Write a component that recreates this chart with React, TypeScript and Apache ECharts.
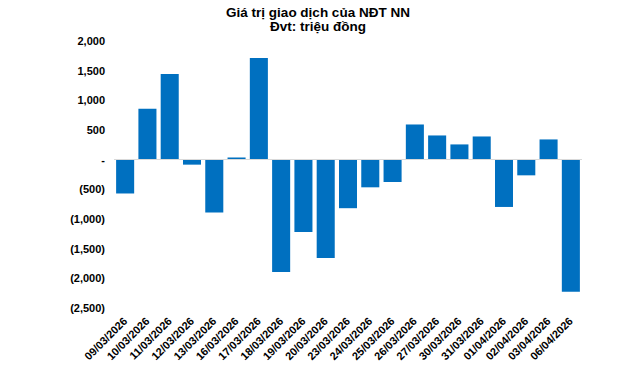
import React, { useEffect, useRef } from "react";
import * as echarts from "echarts";

const categories = [
  "09/03/2026", "10/03/2026", "11/03/2026", "12/03/2026", "13/03/2026",
  "16/03/2026", "17/03/2026", "18/03/2026", "19/03/2026", "20/03/2026",
  "23/03/2026", "24/03/2026", "25/03/2026", "26/03/2026", "27/03/2026",
  "30/03/2026", "31/03/2026", "01/04/2026", "02/04/2026", "03/04/2026",
  "06/04/2026",
];
const values = [
  -570, 857, 1445, -84, -890,
  35, 1714, -1894, -1221, -1658,
  -818, -466, -376, 593, 408,
  257, 391, -797, -264, 341,
  -2225,
];
const titleLines = ["Giá trị giao dịch của NĐT NN", "Đvt: triệu đồng"];

const fmt = (v: number) => {
  if (v === 0) return "-";
  const s = Math.abs(v).toLocaleString("en-US");
  return v < 0 ? `(${s})` : s;
};

export default function App() {
  const ref = useRef<HTMLDivElement>(null);
  useEffect(() => {
    if (!ref.current) return;
    const chart = echarts.init(ref.current, undefined, { renderer: "svg" });
    const font = "Liberation Sans, Arial, sans-serif";
    chart.setOption({
      animation: false,
      backgroundColor: "#ffffff",
      title: {
        text: titleLines.join("\n"),
        left: 313,
        top: 0,
        textAlign: "center",
        textStyle: {
          fontFamily: font,
          fontSize: 13.5,
          fontWeight: "bold",
          color: "#000000",
          lineHeight: 14.5,
        },
      },
      grid: { left: 114, right: 58, top: 41, bottom: 59, containLabel: false },
      xAxis: {
        type: "category",
        data: categories,
        axisLine: { show: false, onZero: false },
        axisTick: { show: false },
        axisLabel: {
          rotate: 45,
          interval: 0,
          margin: 11,
          fontFamily: font,
          fontSize: 11,
          fontWeight: "bold",
          color: "#000000",
        },
      },
      yAxis: {
        type: "value",
        min: -2500,
        max: 2000,
        interval: 500,
        axisLine: { show: false },
        axisTick: { show: false },
        splitLine: { show: false },
        axisLabel: {
          margin: 9,
          fontFamily: font,
          fontSize: 11,
          fontWeight: "bold",
          color: "#000000",
          formatter: fmt,
        },
      },
      series: [
        {
          type: "bar",
          data: values,
          barCategoryGap: "19%",
          itemStyle: { color: "#0070C0" },
          markLine: {
            silent: true,
            symbol: "none",
            label: { show: false },
            lineStyle: { color: "#d9d9d9", width: 1, type: "solid" },
            data: [{ yAxis: 0 }],
          },
        },
      ],
    });
    return () => chart.dispose();
  }, []);
  return (
    <div
      ref={ref}
      style={{ position: "fixed", left: 0, top: 0, width: 640, height: 367 }}
    />
  );
}
